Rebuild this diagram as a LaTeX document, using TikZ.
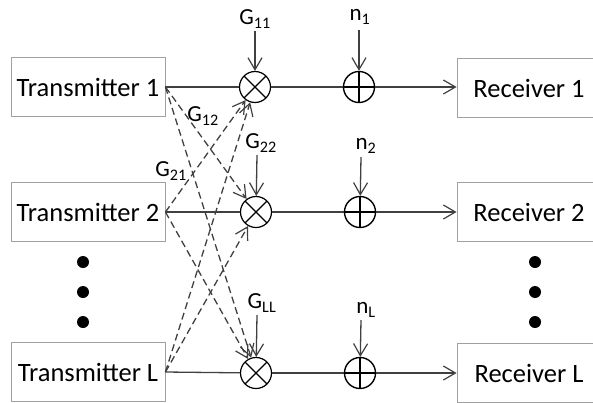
\documentclass[tikz,border=0pt]{standalone}
\usepackage{fontspec}
\setmainfont{Carlito}
\usetikzlibrary{arrows.meta}
\definecolor{boxgray}{HTML}{A0A0A0}
\definecolor{linegray}{HTML}{404040}
\begin{document}
\begin{tikzpicture}[x=1pt,y=-1pt,
  box/.style={draw=boxgray, line width=0.9pt, minimum width=154pt, minimum height=59pt, inner sep=0pt, font=\fontsize{26.5}{30}\selectfont},
  rbox/.style={box, minimum width=144pt},
  mult/.style={circle, draw=black, line width=1.2pt, minimum size=31pt, inner sep=0pt,
    path picture={\draw[line width=1.1pt] (path picture bounding box.north west) -- (path picture bounding box.south east)
      (path picture bounding box.north east) -- (path picture bounding box.south west);}},
  adder/.style={circle, draw=black, line width=1.4pt, minimum size=31pt, inner sep=0pt,
    path picture={\draw[line width=1.5pt] (path picture bounding box.north) -- (path picture bounding box.south)
      (path picture bounding box.east) -- (path picture bounding box.west);}},
  lbl/.style={font=\fontsize{23}{26}\selectfont, inner sep=0pt},
  line/.style={draw=linegray, line width=1.3pt},
  arr/.style={line, -{Straight Barb[length=12pt,width=14pt,line width=1.2pt]}},
  dsh/.style={arr, dash pattern=on 7pt off 4pt},
  dot/.style={circle, fill=black, minimum size=12pt, inner sep=0pt}]
\useasboundingbox (0,0) rectangle (593,402);
\clip (0,0) rectangle (593,402);
% transmitters
\node[box] (tx1) at (88,87) {Transmitter 1};
\node[box] (tx2) at (88,212) {Transmitter 2};
\node[box] (tx3) at (88,372) {Transmitter L};
% receivers
\node[rbox] (rx1) at (529,88) {Receiver 1};
\node[rbox] (rx2) at (529,212) {Receiver 2};
\node[rbox] (rx3) at (529,373) {Receiver L};
% multipliers and adders
\node[mult] (m1) at (255,87) {};
\node[mult] (m2) at (256,212) {};
\node[mult] (m3) at (256,373) {};
\node[adder] (a1) at (359,87) {};
\node[adder] (a2) at (360,212) {};
\node[adder] (a3) at (360,373) {};
% dots
\node[dot] (dl1) at (83,262) {};
\node[dot] (dl2) at (83,292) {};
\node[dot] (dl3) at (83,322) {};
\node[dot] (dr1) at (535,262) {};
\node[dot] (dr2) at (535,292) {};
\node[dot] (dr3) at (535,322) {};
% labels
\node[lbl] (g11) at (255,19) {G\textsubscript{11}};
\node[lbl] (g12) at (203,116) {G\textsubscript{12}};
\node[lbl] (g21) at (171,171) {G\textsubscript{21}};
\node[lbl] (g22) at (261,143) {G\textsubscript{22}};
\node[lbl] (gll) at (262,303) {G\textsubscript{LL}};
\node[lbl] (n1) at (360,17) {n\textsubscript{1}};
\node[lbl] (n2) at (366,146) {n\textsubscript{2}};
\node[lbl] (nl) at (366,310) {n\textsubscript{L}};
% vertical input coordinates
\coordinate (sg11) at (255,31);
\coordinate (sg22) at (257,155);
\coordinate (sgll) at (257,315);
\coordinate (sn1) at (359,30);
\coordinate (sn2) at (361,157);
\coordinate (snl) at (361,320);
% solid paths
\draw[line] (tx1.east) -- (m1);
\draw[line] (tx2.east) -- (m2);
\draw[line] (tx3.east) -- (m3);
\draw[line] (m1) -- (a1);
\draw[line] (m2) -- (a2);
\draw[line] (m3) -- (a3);
\draw[arr] (a1) -- (rx1.west |- a1);
\draw[arr] (a2) -- (rx2.west |- a2);
\draw[arr] (a3) -- (rx3.west |- a3);
% vertical arrows
\draw[arr] (sg11) -- (m1);
\draw[arr] (sg22) -- (m2);
\draw[arr] (sgll) -- (m3);
\draw[arr] (sn1) -- (a1);
\draw[arr] (sn2) -- (a2);
\draw[arr] (snl) -- (a3);
% cross links
\draw[dsh] (tx1.east) -- (m2);
\draw[dsh] (tx1.east) -- (m3);
\draw[dsh] (tx2.east) -- (m1);
\draw[dsh] (tx2.east) -- (m3);
\draw[dsh] (tx3.east) -- (m1);
\draw[dsh] (tx3.east) -- (m2);
\end{tikzpicture}
\end{document}
